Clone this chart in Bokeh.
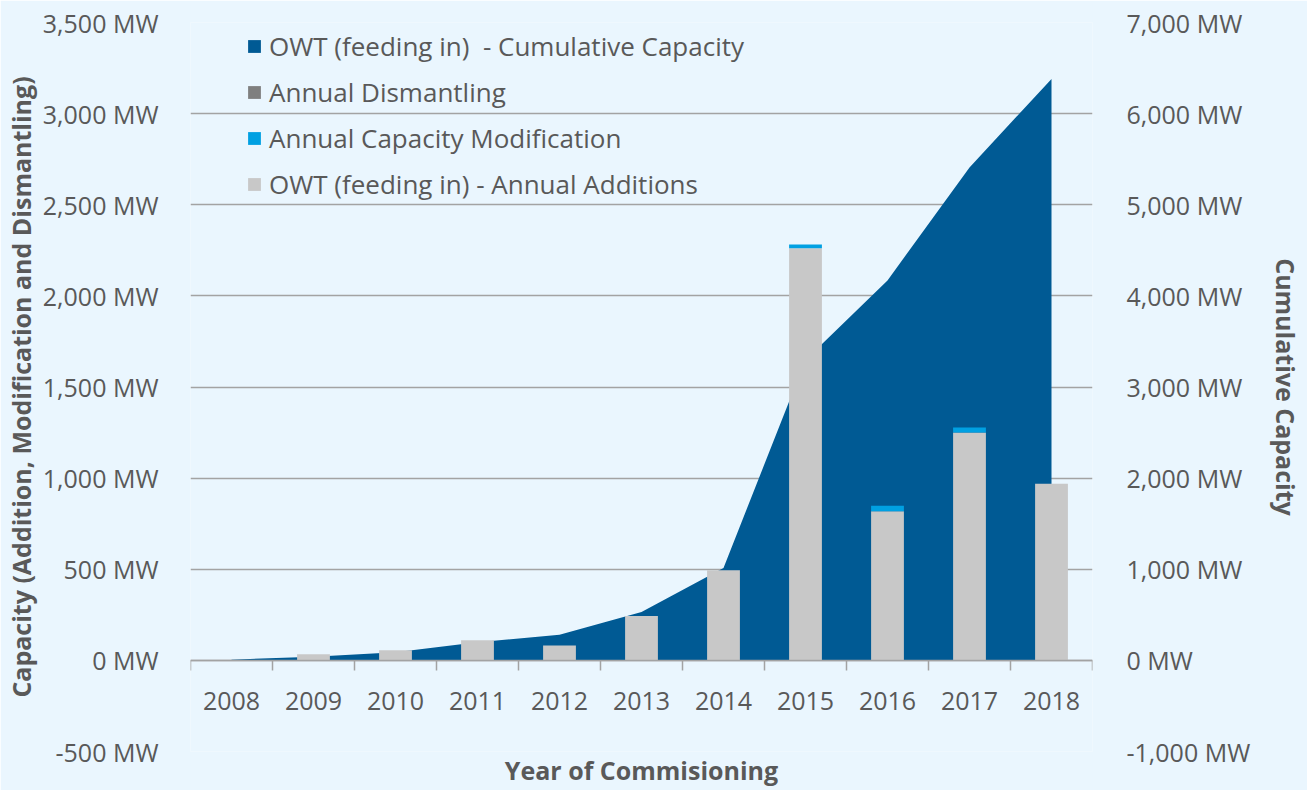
from bokeh.plotting import figure
from bokeh.models import (Range1d, LinearAxis, FixedTicker, Legend, LegendItem,
                          ColumnDataSource)
from bokeh.embed import file_html
from bokeh.resources import INLINE

# ---------------- data ----------------
years = [2008, 2009, 2010, 2011, 2012, 2013, 2014, 2015, 2016, 2017, 2018]
year_labels = ["2008", "2009", "2010", "2011", "2012", "2013", "2014", "2015", "2016", "2017", "2018"]
annual_additions = [0, 33, 55, 110, 82, 243, 494, 2262, 818, 1250, 969]
annual_modification = [0, 0, 0, 0, 0, 0, 0, 20, 31, 28, 0]
annual_dismantling = [0, 0, 0, 0, 0, 0, 0, 0, 0, 0, 0]
cumulative_capacity = [8, 40, 90, 200, 280, 530, 1015, 3295, 4170, 5410, 6380]
left_ticks = [-500, 0, 500, 1000, 1500, 2000, 2500, 3000, 3500]
left_tick_labels = ["-500 MW", "0 MW", "500 MW", "1,000 MW", "1,500 MW", "2,000 MW",
                    "2,500 MW", "3,000 MW", "3,500 MW"]
right_ticks = [-1000, 0, 1000, 2000, 3000, 4000, 5000, 6000, 7000]
right_tick_labels = ["-1,000 MW", "0 MW", "1,000 MW", "2,000 MW", "3,000 MW", "4,000 MW",
                     "5,000 MW", "6,000 MW", "7,000 MW"]

# ---------------- style ----------------
BG = "#EAF6FE"
TXT = "#595959"
GRID = "#A3A3A3"
C_CUM = "#005A94"
C_DIS = "#7F7F7F"
C_MOD = "#00A0E2"
C_ADD = "#C8C8C8"
FONT = "Open Sans"
TICK_SIZE = "25px"
TITLE_SIZE = "25px"

src = ColumnDataSource(dict(
    years=years,
    additions=annual_additions,
    modification=annual_modification,
    dismantling_neg=[-d for d in annual_dismantling],
    cumulative=cumulative_capacity,
))

p = figure(width=1307, height=790, output_backend="svg", toolbar_location=None,
           x_range=Range1d(2007.5, 2018.5), y_range=Range1d(-500, 3500),
           min_border_left=190, min_border_right=215, min_border_top=22,
           min_border_bottom=39)
p.extra_y_ranges = {"right": Range1d(-1000, 7000)}
p.background_fill_color = BG
p.border_fill_color = BG
p.outline_line_color = None

# cumulative area (right axis)
r_cum = p.varea(x="years", y1=0, y2="cumulative", source=src, fill_color=C_CUM,
                y_range_name="right")

# bars (left axis)
r_dis = p.vbar(x="years", width=0.4, bottom=0, top="dismantling_neg", source=src,
               fill_color=C_DIS, line_color=None)
stack = p.vbar_stack(["additions", "modification"], x="years", width=0.4, source=src,
                     fill_color=[C_ADD, C_MOD], line_color=None)
r_add, r_mod = stack

# x axis at zero
xa = p.xaxis[0]
xa.fixed_location = 0
boundaries = [y - 0.5 for y in years] + [years[-1] + 0.5]
xa.ticker = FixedTicker(ticks=years, minor_ticks=boundaries)
xa.major_label_overrides = {y: l for y, l in zip(years, year_labels)}
xa.major_tick_line_color = None
xa.major_tick_out = 0
xa.major_tick_in = 0
xa.minor_tick_line_color = GRID
xa.minor_tick_line_width = 1.5
xa.minor_tick_out = 10
xa.minor_tick_in = 0
xa.axis_line_color = GRID
xa.axis_line_width = 1.5
xa.major_label_standoff = 22
xa.major_label_text_font = FONT
xa.major_label_text_font_size = TICK_SIZE
xa.major_label_text_color = TXT
p.xgrid.visible = False

# x-axis title on a bare axis below the plot frame
xt = LinearAxis(ticker=FixedTicker(ticks=[]))
xt.axis_line_color = None
xt.major_tick_line_color = None
xt.minor_tick_line_color = None
xt.major_tick_out = 0
xt.minor_tick_out = 0
xt.major_label_text_font_size = "0px"
xt.major_label_standoff = 0
xt.axis_label = "Year of Commisioning"
xt.axis_label_text_font = FONT
xt.axis_label_text_font_style = "bold"
xt.axis_label_text_font_size = TITLE_SIZE
xt.axis_label_text_color = TXT
xt.axis_label_standoff = 1
p.add_layout(xt, "below")

# left axis
ya = p.yaxis[0]
ya.ticker = FixedTicker(ticks=left_ticks)
ya.major_label_overrides = {t: l for t, l in zip(left_ticks, left_tick_labels)}
ya.axis_line_color = None
ya.major_tick_line_color = None
ya.minor_tick_line_color = None
ya.major_label_standoff = 26
ya.major_label_text_font = FONT
ya.major_label_text_font_size = TICK_SIZE
ya.major_label_text_color = TXT
ya.axis_label = "Capacity (Addition, Modification and Dismantling)"
ya.axis_label_text_font = FONT
ya.axis_label_text_font_style = "bold"
ya.axis_label_text_font_size = TITLE_SIZE
ya.axis_label_text_color = TXT
ya.axis_label_standoff = 2
p.ygrid.ticker = FixedTicker(ticks=left_ticks)
p.ygrid.grid_line_color = GRID
p.ygrid.grid_line_width = 1.5

# right axis
ra = LinearAxis(y_range_name="right", ticker=FixedTicker(ticks=right_ticks))
ra.major_label_overrides = {t: l for t, l in zip(right_ticks, right_tick_labels)}
ra.axis_line_color = None
ra.major_tick_line_color = None
ra.minor_tick_line_color = None
ra.major_label_standoff = 28
ra.major_label_text_font = FONT
ra.major_label_text_font_size = TICK_SIZE
ra.major_label_text_color = TXT
ra.axis_label = "Cumulative Capacity"
ra.axis_label_text_font = FONT
ra.axis_label_text_font_style = "bold"
ra.axis_label_text_font_size = TITLE_SIZE
ra.axis_label_text_color = TXT
ra.axis_label_standoff = 16
p.add_layout(ra, "right")

# legend
legend = Legend(items=[
    LegendItem(label="OWT (feeding in)  - Cumulative Capacity", renderers=[r_cum]),
    LegendItem(label="Annual Dismantling", renderers=[r_dis]),
    LegendItem(label="Annual Capacity Modification", renderers=[r_mod]),
    LegendItem(label="OWT (feeding in) - Annual Additions", renderers=[r_add]),
], location=(56, 547), glyph_width=16, glyph_height=16, label_height=40, spacing=6,
    padding=0, margin=0, label_standoff=7, background_fill_alpha=0, border_line_alpha=0,
    label_text_font=FONT, label_text_font_size="26px", label_text_color=TXT)
p.add_layout(legend, "center")

open("out.html", "w").write(file_html(p, INLINE))
